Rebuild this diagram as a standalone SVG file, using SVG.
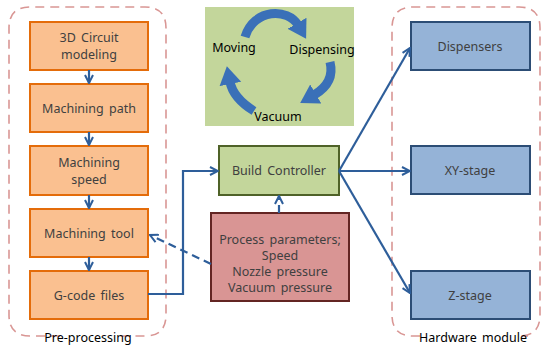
<svg xmlns="http://www.w3.org/2000/svg" width="546" height="347" viewBox="0 0 546 347">
<defs>
<style>
text{font-family:"Noto Sans","Liberation Sans",sans-serif;font-size:12.5px;fill:#404040;text-anchor:middle;word-spacing:2px}
.grp{fill:none;stroke:#d99694;stroke-width:1.6;stroke-dasharray:9 6}
.or{fill:#fac090;stroke:#e46c0a;stroke-width:2}
.bl{fill:#95b3d7;stroke:#2c4d75;stroke-width:2}
.conn{fill:none;stroke:#2e5e9a;stroke-width:2.2}
.dash{stroke-dasharray:8 5}
.cyc{fill:none;stroke:#3a70b8;stroke-width:9}
</style>
<marker id="ah" markerWidth="10" markerHeight="10" refX="9" refY="5" orient="auto" markerUnits="userSpaceOnUse">
<path d="M1,1 L9,5 L1,9" fill="none" stroke="#2e5e9a" stroke-width="2"/>
</marker>
<marker id="big" markerWidth="22" markerHeight="24" refX="2" refY="12" orient="auto" markerUnits="userSpaceOnUse">
<path d="M0,1 L18,12 L0,23 Z" fill="#3a70b8"/>
</marker>
</defs>
<g id="preprocessing">
<path class="grp" d="M60,336 L30,336 Q9,336 9,315 L9,28 Q9,7 30,7 L145,7 Q166,7 166,28 L166,315 Q166,336 145,336 L120,336"/>
<text x="88" y="342" style="fill:#000">Pre-processing</text>
</g>
<g id="hardware">
<path class="grp" d="M420,336 L413,336 Q392,336 392,315 L392,28 Q392,7 413,7 L519,7 Q540,7 540,28 L540,315 Q540,336 519,336 L528,336"/>
<text x="473" y="342" style="fill:#000">Hardware module</text>
</g>
<g id="n1"><rect class="or" x="30" y="22" width="118" height="48"/><text x="89" y="42">3D Circuit</text><text x="89" y="59">modeling</text></g>
<g id="n2"><rect class="or" x="30" y="84" width="118" height="48"/><text x="89" y="113">Machining path</text></g>
<g id="n3"><rect class="or" x="30" y="146" width="118" height="49"/><text x="89" y="167">Machining</text><text x="89" y="184">speed</text></g>
<g id="n4"><rect class="or" x="30" y="209" width="118" height="48"/><text x="89" y="238">Machining tool</text></g>
<g id="n5"><rect class="or" x="30" y="271" width="118" height="48"/><text x="89" y="300">G-code files</text></g>
<g id="cycle">
<rect x="205" y="7" width="149" height="119" fill="#c3d69b"/>
<path class="cyc" d="M245,37 C254,8 288,8 298,25" marker-end="url(#big)"/>
<path class="cyc" d="M330,62 C334,78 326,88 314,95" marker-end="url(#big)"/>
<path class="cyc" d="M254,111 C238,101 232,92 230,82" marker-end="url(#big)"/>
<text x="234" y="52" style="fill:#000">Moving</text>
<text x="322" y="54" style="fill:#000">Dispensing</text>
<text x="278" y="121" style="fill:#000">Vacuum</text>
</g>
<g id="build"><rect x="219" y="146" width="120" height="49" fill="#c3d69b" stroke="#4f6228" stroke-width="2"/><text x="279" y="175">Build Controller</text></g>
<g id="params"><rect x="211" y="213" width="138" height="88" fill="#d99594" stroke="#632523" stroke-width="2"/>
<text x="280" y="244">Process parameters;</text><text x="280" y="260">Speed</text><text x="280" y="276">Nozzle pressure</text><text x="280" y="292">Vacuum pressure</text></g>
<g id="d1"><rect class="bl" x="411" y="22" width="119" height="48"/><text x="470" y="51">Dispensers</text></g>
<g id="d2"><rect class="bl" x="411" y="146" width="119" height="48"/><text x="470" y="175">XY-stage</text></g>
<g id="d3"><rect class="bl" x="411" y="271" width="119" height="48"/><text x="470" y="300">Z-stage</text></g>
<g id="connectors">
<path class="conn" d="M89,70 L89,83" marker-end="url(#ah)"/>
<path class="conn" d="M89,132 L89,145" marker-end="url(#ah)"/>
<path class="conn" d="M89,195 L89,208" marker-end="url(#ah)"/>
<path class="conn" d="M89,257 L89,270" marker-end="url(#ah)"/>
<path class="conn" d="M148,294 L183,294 L183,171 L218,171" marker-end="url(#ah)"/>
<path class="conn dash" d="M211,264 L150,235" marker-end="url(#ah)"/>
<path class="conn dash" d="M279,213 L279,196" marker-end="url(#ah)"/>
<path class="conn" d="M339,171 L410,48" marker-end="url(#ah)"/>
<path class="conn" d="M339,171 L410,171" marker-end="url(#ah)"/>
<path class="conn" d="M339,171 L410,293" marker-end="url(#ah)"/>
</g>
</svg>
